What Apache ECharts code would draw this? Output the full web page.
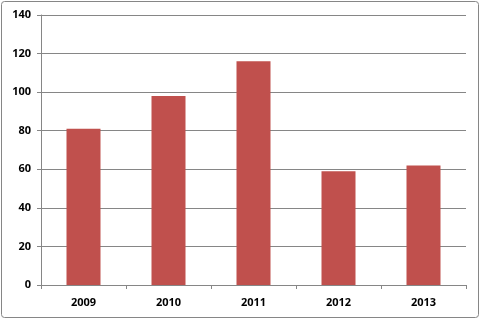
<!DOCTYPE html>
<html>
<head>
<meta charset="utf-8">
<script src="https://cdn.jsdelivr.net/npm/echarts@6/dist/echarts.min.js"></script>
<style>html,body{margin:0;padding:0;background:#fff;}#c{width:481px;height:320px;}</style>
</head>
<body>
<div id="c"></div>
<script>
const categories = ['2009', '2010', '2011', '2012', '2013'];
const values = [81, 98, 116, 59, 62];
const yTicks = [0, 20, 40, 60, 80, 100, 120, 140];

const chart = echarts.init(document.getElementById('c'), null, {renderer: 'canvas'});
chart.setOption({
  animation: false,
  backgroundColor: '#fff',
  graphic: [{
    type: 'rect', silent: true,
    shape: {x: 1.5, y: 1.5, width: 477, height: 316, r: 3},
    style: {fill: 'none', stroke: '#868686', lineWidth: 1}
  }],
  grid: {left: 41, right: 15, top: 15, bottom: 35, containLabel: false},
  xAxis: {
    type: 'category',
    data: categories,
    axisLine: {lineStyle: {color: '#868686', width: 1}},
    axisTick: {show: true, alignWithLabel: false, length: 4, lineStyle: {color: '#868686'}},
    axisLabel: {color: '#000', fontFamily: 'Open Sans', fontWeight: 'bold', fontSize: 11, margin: 12}
  },
  yAxis: {
    type: 'value',
    min: yTicks[0], max: yTicks[yTicks.length - 1], interval: 20,
    axisLine: {show: true, lineStyle: {color: '#868686', width: 1}},
    axisTick: {show: true, length: 4, inside: false, lineStyle: {color: '#868686'}},
    splitLine: {show: true, lineStyle: {color: '#868686', width: 1}},
    axisLabel: {color: '#000', fontFamily: 'Open Sans', fontWeight: 'bold', fontSize: 11, margin: 10}
  },
  series: [{
    type: 'bar',
    data: values,
    barWidth: '40%',
    itemStyle: {color: '#C0504D'}
  }]
});
</script>
</body>
</html>
